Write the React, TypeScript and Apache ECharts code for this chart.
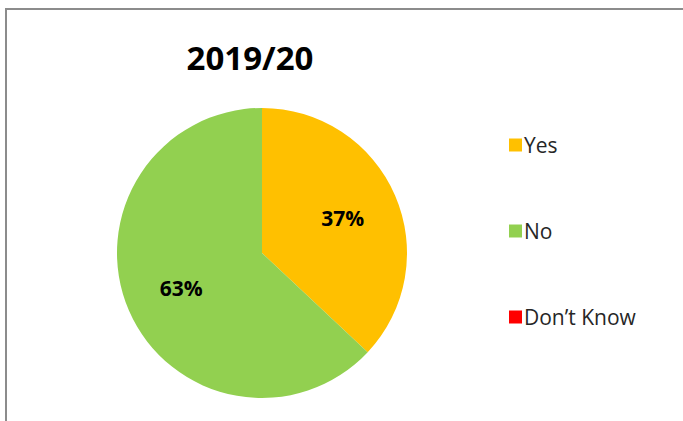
import React, { useEffect, useRef } from "react";
import * as echarts from "echarts";

const categories = ["Yes", "No", "Don’t Know"];
const values = [37, 63, 0];
const colors = ["#FFC000", "#92D050", "#FF0000"];
const title = "2019/20";

export default function App() {
  const ref = useRef<HTMLDivElement>(null);
  useEffect(() => {
    document.body.style.margin = "0";
    const chart = echarts.init(ref.current!, null, { renderer: "svg" });
    const font = "'Open Sans', 'Noto Sans', sans-serif";
    const data = categories.map((name, i) => ({
      name,
      value: values[i],
      itemStyle: { color: colors[i] },
    }));
    chart.setOption({
      animation: false,
      backgroundColor: "#ffffff",
      title: {
        text: title,
        left: 245,
        top: 36,
        textAlign: "center",
        textStyle: { fontSize: 33, fontWeight: "bold", color: "#000", fontFamily: font },
      },
      legend: {
        orient: "vertical",
        left: 504,
        top: 129,
        itemWidth: 13,
        itemHeight: 13,
        itemGap: 64,
        icon: "rect",
        data: categories,
        textStyle: { fontSize: 21, color: "#262626", fontFamily: font, lineHeight: 22, padding: [0, 0, 0, -3] },
      },
      graphic: [
        {
          type: "rect",
          shape: { x: 6, y: 9, width: 700, height: 440 },
          style: { fill: "none", stroke: "#8c8c8c", lineWidth: 2 },
          silent: true,
        },
      ],
      series: [
        {
          type: "pie",
          center: [262, 253],
          radius: 145,
          startAngle: 90,
          clockwise: true,
          label: { show: false },
          labelLine: { show: false },
          emphasis: { disabled: true },
          data,
        },
        {
          type: "pie",
          center: [262, 253],
          radius: 170,
          startAngle: 90,
          clockwise: true,
          silent: true,
          z: 3,
          itemStyle: { color: "transparent" },
          label: {
            show: true,
            position: "inside",
            formatter: "{c}%",
            fontSize: 21,
            fontWeight: "bold",
            color: "#000",
            fontFamily: font,
          },
          labelLine: { show: false },
          emphasis: { disabled: true },
          data: categories.map((name, i) => ({
            name,
            value: values[i],
            itemStyle: { color: "transparent" },
            label: values[i] === 0 ? { show: false } : undefined,
          })),
        },
      ],
    });
    return () => chart.dispose();
  }, []);
  return <div ref={ref} style={{ width: 683, height: 421 }} />;
}
